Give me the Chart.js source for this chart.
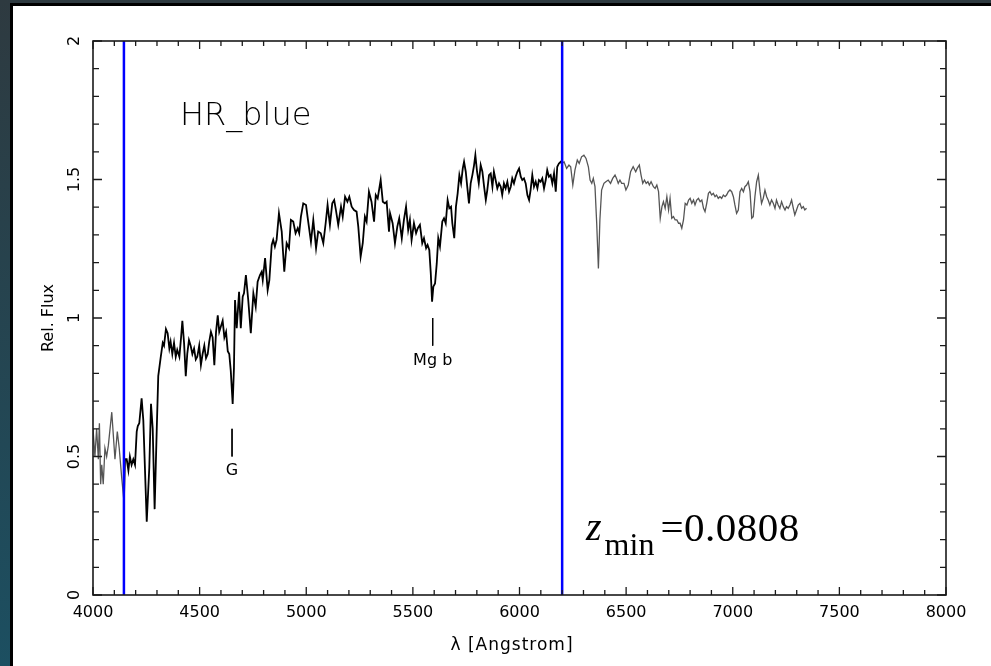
<!DOCTYPE html>
<html>
<head>
<meta charset="utf-8">
<title>HR_blue spectrum</title>
<script src="https://cdn.jsdelivr.net/npm/chart.js@4.4.1/dist/chart.umd.min.js"></script>
<style>
  html, body { margin: 0; padding: 0; width: 991px; height: 666px; overflow: hidden; }
  body { position: relative; background: linear-gradient(#2e3a40, #1c4f61); }
  #sheet { position: absolute; left: 10px; top: 3px; right: 0; bottom: 0; background: #fff;
           border-left: 3px solid #000; border-top: 3px solid #000; }
  #specChart { position: absolute; left: 0; top: 0; }
</style>
</head>
<body>
<div id="sheet"></div>
<canvas id="specChart" width="991" height="666"></canvas>
<script>
// Spectrum: wavelength (Angstrom) and relative flux
// blue end, outside the fit window (grey)
const leftWave = [4000, 4009, 4017, 4025, 4030, 4036, 4041, 4048, 4056, 4064, 4072, 4088, 4103, 4114, 4123, 4135, 4145];
const leftFlux = [0.60, 0.50, 0.60, 0.49, 0.62, 0.40, 0.47, 0.40, 0.53, 0.50, 0.54, 0.66, 0.49, 0.59, 0.53, 0.42, 0.34];

// fit window 4145 - 6200 (black)
const mainWave = [
  4145, 4150, 4158, 4166, 4173, 4181, 4189, 4197, 4205, 4210, 4217, 4228, 4236, 4252, 4264, 4272, 4280, 4289, 4299, 4306,
  4317, 4327, 4333, 4342, 4350, 4358, 4364, 4372, 4380, 4388, 4395, 4405, 4413, 4419, 4427, 4435, 4442, 4450, 4458, 4466,
  4474, 4482, 4489, 4498, 4506, 4514, 4522, 4530, 4538, 4545, 4553, 4561, 4569, 4577, 4585, 4592, 4600, 4608, 4616, 4624,
  4632, 4639, 4646, 4655, 4661, 4666, 4674, 4685, 4693, 4702, 4708, 4717, 4728, 4740, 4752, 4763, 4772, 4783, 4791, 4796,
  4807, 4819, 4827, 4838, 4845, 4853, 4861, 4872, 4885, 4897, 4908, 4919, 4928, 4939, 4950, 4960, 4967, 4975, 4986, 4999,
  5006, 5022, 5033, 5046, 5056, 5068, 5080, 5091, 5100, 5111, 5122, 5131, 5139, 5150, 5163, 5171, 5182, 5193, 5202, 5213,
  5224, 5236, 5244, 5255, 5265, 5275, 5283, 5294, 5306, 5318, 5326, 5335, 5349, 5359, 5369, 5377, 5388, 5393, 5405, 5416,
  5427, 5436, 5448, 5458, 5468, 5478, 5486, 5494, 5505, 5515, 5523, 5533, 5544, 5552, 5562, 5569, 5577, 5584, 5590, 5596,
  5604, 5612, 5619, 5627, 5638, 5646, 5654, 5663, 5671, 5679, 5685, 5694, 5702, 5710, 5718, 5726, 5734, 5740, 5748, 5755,
  5763, 5771, 5779, 5787, 5793, 5801, 5809, 5818, 5826, 5834, 5842, 5849, 5857, 5865, 5873, 5880, 5888, 5896, 5904, 5912,
  5919, 5927, 5935, 5943, 5951, 5959, 5966, 5974, 5982, 5990, 5998, 6006, 6013, 6021, 6029, 6037, 6045, 6052, 6060, 6068,
  6076, 6084, 6091, 6099, 6107, 6115, 6123, 6130, 6138, 6146, 6154, 6162, 6170, 6177, 6185, 6193, 6200
];
const mainFlux = [
  0.34, 0.49, 0.49, 0.45, 0.50, 0.47, 0.49, 0.47, 0.59, 0.61, 0.62, 0.71, 0.63, 0.265, 0.46, 0.69, 0.60, 0.31, 0.60, 0.79,
  0.855, 0.91, 0.90, 0.96, 0.945, 0.89, 0.915, 0.87, 0.91, 0.86, 0.885, 0.86, 0.93, 0.99, 0.91, 0.79, 0.87, 0.92, 0.90, 0.87,
  0.89, 0.85, 0.86, 0.90, 0.83, 0.87, 0.90, 0.855, 0.87, 0.915, 0.95, 0.93, 0.83, 0.95, 1.01, 0.95, 0.97, 0.99, 0.93, 0.95,
  0.88, 0.87, 0.81, 0.69, 0.82, 1.065, 0.963, 1.095, 0.963, 1.077, 1.089, 1.155, 1.065, 0.945, 1.089, 1.041, 1.131, 1.155, 1.167, 1.137,
  1.216, 1.101, 1.137, 1.264, 1.282, 1.258, 1.282, 1.378, 1.312, 1.167, 1.270, 1.252, 1.354, 1.348, 1.306, 1.324, 1.306, 1.366, 1.414, 1.408,
  1.366, 1.275, 1.354, 1.252, 1.312, 1.306, 1.270, 1.342, 1.408, 1.336, 1.414, 1.426, 1.390, 1.336, 1.402, 1.366, 1.438, 1.420, 1.438, 1.402,
  1.390, 1.384, 1.330, 1.221, 1.270, 1.366, 1.348, 1.456, 1.420, 1.348, 1.444, 1.432, 1.498, 1.420, 1.414, 1.420, 1.312, 1.378, 1.342, 1.270,
  1.330, 1.360, 1.288, 1.354, 1.402, 1.318, 1.354, 1.282, 1.342, 1.306, 1.324, 1.336, 1.270, 1.288, 1.252, 1.264, 1.246, 1.161, 1.059, 1.113,
  1.125, 1.197, 1.288, 1.258, 1.348, 1.360, 1.342, 1.426, 1.396, 1.402, 1.342, 1.288, 1.402, 1.450, 1.516, 1.486, 1.540, 1.564, 1.528, 1.474,
  1.414, 1.486, 1.516, 1.552, 1.588, 1.528, 1.486, 1.552, 1.528, 1.474, 1.426, 1.462, 1.516, 1.522, 1.474, 1.528, 1.498, 1.468, 1.486, 1.474,
  1.444, 1.486, 1.468, 1.492, 1.456, 1.474, 1.504, 1.486, 1.510, 1.528, 1.540, 1.510, 1.498, 1.504, 1.486, 1.444, 1.426, 1.462, 1.516, 1.474,
  1.492, 1.468, 1.498, 1.492, 1.504, 1.468, 1.498, 1.534, 1.510, 1.516, 1.486, 1.522, 1.456, 1.546, 1.558, 1.564, 1.558
];

// red end, outside the fit window (grey)
const rightWave = [
  6200, 6209, 6221, 6232, 6240, 6250, 6260, 6271, 6280, 6291, 6302, 6312, 6323, 6331, 6339, 6346, 6354, 6362, 6370, 6377,
  6385, 6396, 6405, 6416, 6427, 6437, 6448, 6455, 6463, 6471, 6479, 6490, 6499, 6510, 6521, 6533, 6545, 6552, 6562, 6570,
  6578, 6586, 6594, 6602, 6609, 6617, 6628, 6636, 6644, 6652, 6660, 6668, 6675, 6683, 6691, 6699, 6706, 6714, 6722, 6730,
  6738, 6746, 6753, 6761, 6769, 6777, 6785, 6793, 6800, 6808, 6816, 6823, 6831, 6839, 6847, 6855, 6863, 6870, 6878, 6886,
  6893, 6901, 6909, 6917, 6924, 6932, 6940, 6948, 6956, 6964, 6971, 6979, 6987, 6995, 7003, 7010, 7018, 7026, 7034, 7042,
  7050, 7057, 7065, 7073, 7081, 7089, 7096, 7104, 7112, 7120, 7128, 7135, 7143, 7151, 7159, 7166, 7174, 7182, 7190, 7198,
  7205, 7213, 7221, 7229, 7237, 7245, 7252, 7260, 7268, 7276, 7284, 7291, 7299, 7307, 7315, 7323, 7331, 7338, 7346
];
const rightFlux = [
  1.558, 1.564, 1.540, 1.552, 1.546, 1.480, 1.534, 1.570, 1.558, 1.582, 1.588, 1.576, 1.546, 1.498, 1.486, 1.504, 1.474, 1.342, 1.179, 1.354,
  1.462, 1.486, 1.492, 1.498, 1.486, 1.504, 1.516, 1.504, 1.486, 1.498, 1.486, 1.486, 1.462, 1.480, 1.528, 1.546, 1.528, 1.540, 1.552, 1.516,
  1.486, 1.498, 1.486, 1.492, 1.480, 1.492, 1.474, 1.468, 1.480, 1.456, 1.360, 1.402, 1.420, 1.396, 1.438, 1.390, 1.432, 1.360, 1.366, 1.354,
  1.354, 1.342, 1.342, 1.324, 1.354, 1.414, 1.408, 1.426, 1.432, 1.414, 1.426, 1.408, 1.426, 1.432, 1.420, 1.426, 1.396, 1.384, 1.414, 1.450,
  1.456, 1.444, 1.450, 1.438, 1.444, 1.432, 1.438, 1.432, 1.444, 1.438, 1.444, 1.456, 1.462, 1.456, 1.438, 1.408, 1.378, 1.390, 1.456, 1.468,
  1.456, 1.474, 1.480, 1.492, 1.456, 1.360, 1.366, 1.438, 1.492, 1.516, 1.456, 1.414, 1.432, 1.462, 1.438, 1.426, 1.408, 1.426, 1.414, 1.396,
  1.426, 1.408, 1.396, 1.420, 1.402, 1.390, 1.402, 1.396, 1.408, 1.426, 1.396, 1.372, 1.390, 1.408, 1.414, 1.396, 1.402, 1.390, 1.396
];

// fit window limits (blue lines)
const windowEdges = [4145, 6200];

// marked absorption features: short line from featureTop down to featureBottom, label under it
const featureNames = ["G", "Mg b"];
const featureWave = [4652, 5593];
const featureTop = [0.60, 1.00];
const featureBottom = [0.50, 0.90];
const featureLabelFlux = [0.448, 0.845];

// axes
const xTickLabels = [4000, 4500, 5000, 5500, 6000, 6500, 7000, 7500, 8000];
const yTickLabels = [0, 0.5, 1, 1.5, 2];
const xMinorStep = 100;
const yMinorStep = 0.1;

const sansFont = '"DejaVu Sans", sans-serif';
const serifFont = '"Liberation Serif", "DejaVu Serif", serif';

const toPoints = (xs, ys) => xs.map((v, i) => ({ x: v, y: ys[i] }));

const datasets = [];
windowEdges.forEach((w) => {
  datasets.push({
    data: [{ x: w, y: 0 }, { x: w, y: 2 }],
    borderColor: "#0000ff",
    borderWidth: 2.5,
    order: 0,
  });
});
featureWave.forEach((w, i) => {
  datasets.push({
    data: [{ x: w, y: featureTop[i] }, { x: w, y: featureBottom[i] }],
    borderColor: "#000",
    borderWidth: 1,
    order: 1,
  });
});
datasets.push({ data: toPoints(mainWave, mainFlux), borderColor: "#000", borderWidth: 1.8, order: 2 });
datasets.push({ data: toPoints(leftWave, leftFlux), borderColor: "#555", borderWidth: 1.3, order: 3 });
datasets.push({ data: toPoints(rightWave, rightFlux), borderColor: "#555", borderWidth: 1.3, order: 3 });

// frame, inward ticks, labels and annotations
const decorations = {
  id: "decorations",
  afterDatasetsDraw(chart) {
    const { ctx, chartArea: a, scales: { x, y } } = chart;
    ctx.save();
    ctx.strokeStyle = "#1a1a1a";
    ctx.fillStyle = "#000";

    // box
    ctx.lineWidth = 1.6;
    ctx.strokeRect(a.left, a.top, a.right - a.left, a.bottom - a.top);

    // x ticks, bottom and top
    ctx.lineWidth = 1.3;
    ctx.beginPath();
    for (let v = x.min; v <= x.max; v += xMinorStep) {
      const px = x.getPixelForValue(v);
      const len = xTickLabels.includes(v) ? 8 : 5;
      ctx.moveTo(px, a.bottom);
      ctx.lineTo(px, a.bottom - len);
      ctx.moveTo(px, a.top);
      ctx.lineTo(px, a.top + len);
    }
    // y ticks, left and right
    const nY = Math.round((y.max - y.min) / yMinorStep);
    for (let i = 0; i <= nY; i++) {
      const v = y.min + i * yMinorStep;
      const py = y.getPixelForValue(v);
      const len = yTickLabels.some((t) => Math.abs(t - v) < 1e-9) ? 9 : 6;
      ctx.moveTo(a.left, py);
      ctx.lineTo(a.left + len, py);
      ctx.moveTo(a.right, py);
      ctx.lineTo(a.right - len, py);
    }
    ctx.stroke();

    // tick labels
    ctx.font = "16px " + sansFont;
    ctx.textAlign = "center";
    ctx.textBaseline = "alphabetic";
    xTickLabels.forEach((v) => ctx.fillText(String(v), x.getPixelForValue(v), a.bottom + 22));
    ctx.textBaseline = "middle";
    yTickLabels.forEach((v) => {
      ctx.save();
      ctx.translate(a.left - 18, y.getPixelForValue(v));
      ctx.rotate(-Math.PI / 2);
      ctx.fillText(String(v), 0, 0);
      ctx.restore();
    });

    // axis titles
    ctx.save();
    ctx.font = "17px " + sansFont;
    ctx.letterSpacing = "1px";
    ctx.fillText("λ [Angstrom]", 512, a.bottom + 51);
    ctx.restore();
    ctx.save();
    ctx.translate(49, (a.top + a.bottom) / 2);
    ctx.rotate(-Math.PI / 2);
    ctx.fillText("Rel. Flux", 0, 0);
    ctx.restore();

    // feature labels
    featureNames.forEach((name, i) => {
      ctx.fillText(name, x.getPixelForValue(featureWave[i]), y.getPixelForValue(featureLabelFlux[i]));
    });

    // template name
    ctx.textAlign = "left";
    ctx.textBaseline = "alphabetic";
    ctx.font = "200 32px " + sansFont;
    ctx.fillText("HR_blue", x.getPixelForValue(4408), y.getPixelForValue(1.697));

    // z_min = 0.0808
    let zx = x.getPixelForValue(6312);
    const zy = y.getPixelForValue(0.199);
    ctx.font = "italic 40px " + serifFont;
    ctx.fillText("z", zx, zy);
    zx += ctx.measureText("z").width + 3;
    ctx.font = "32px " + serifFont;
    ctx.fillText("min", zx, zy + 15);
    zx += ctx.measureText("min").width + 6;
    ctx.font = "41px " + serifFont;
    ctx.letterSpacing = "0.5px";
    ctx.fillText("=0.0808", zx, zy + 1);

    ctx.restore();
  },
};

const spectrumChart = new Chart(document.getElementById("specChart").getContext("2d"), {
  type: "line",
  data: { datasets: datasets },
  options: {
    responsive: false,
    animation: false,
    layout: { padding: { left: 93, top: 41, right: 45, bottom: 71 } },
    elements: {
      point: { radius: 0 },
      line: { tension: 0, fill: false },
    },
    scales: {
      x: { type: "linear", min: 4000, max: 8000, display: false },
      y: { type: "linear", min: 0, max: 2, display: false },
    },
    plugins: {
      legend: { display: false },
      tooltip: { enabled: false },
    },
  },
  plugins: [decorations],
});
</script>
</body>
</html>
